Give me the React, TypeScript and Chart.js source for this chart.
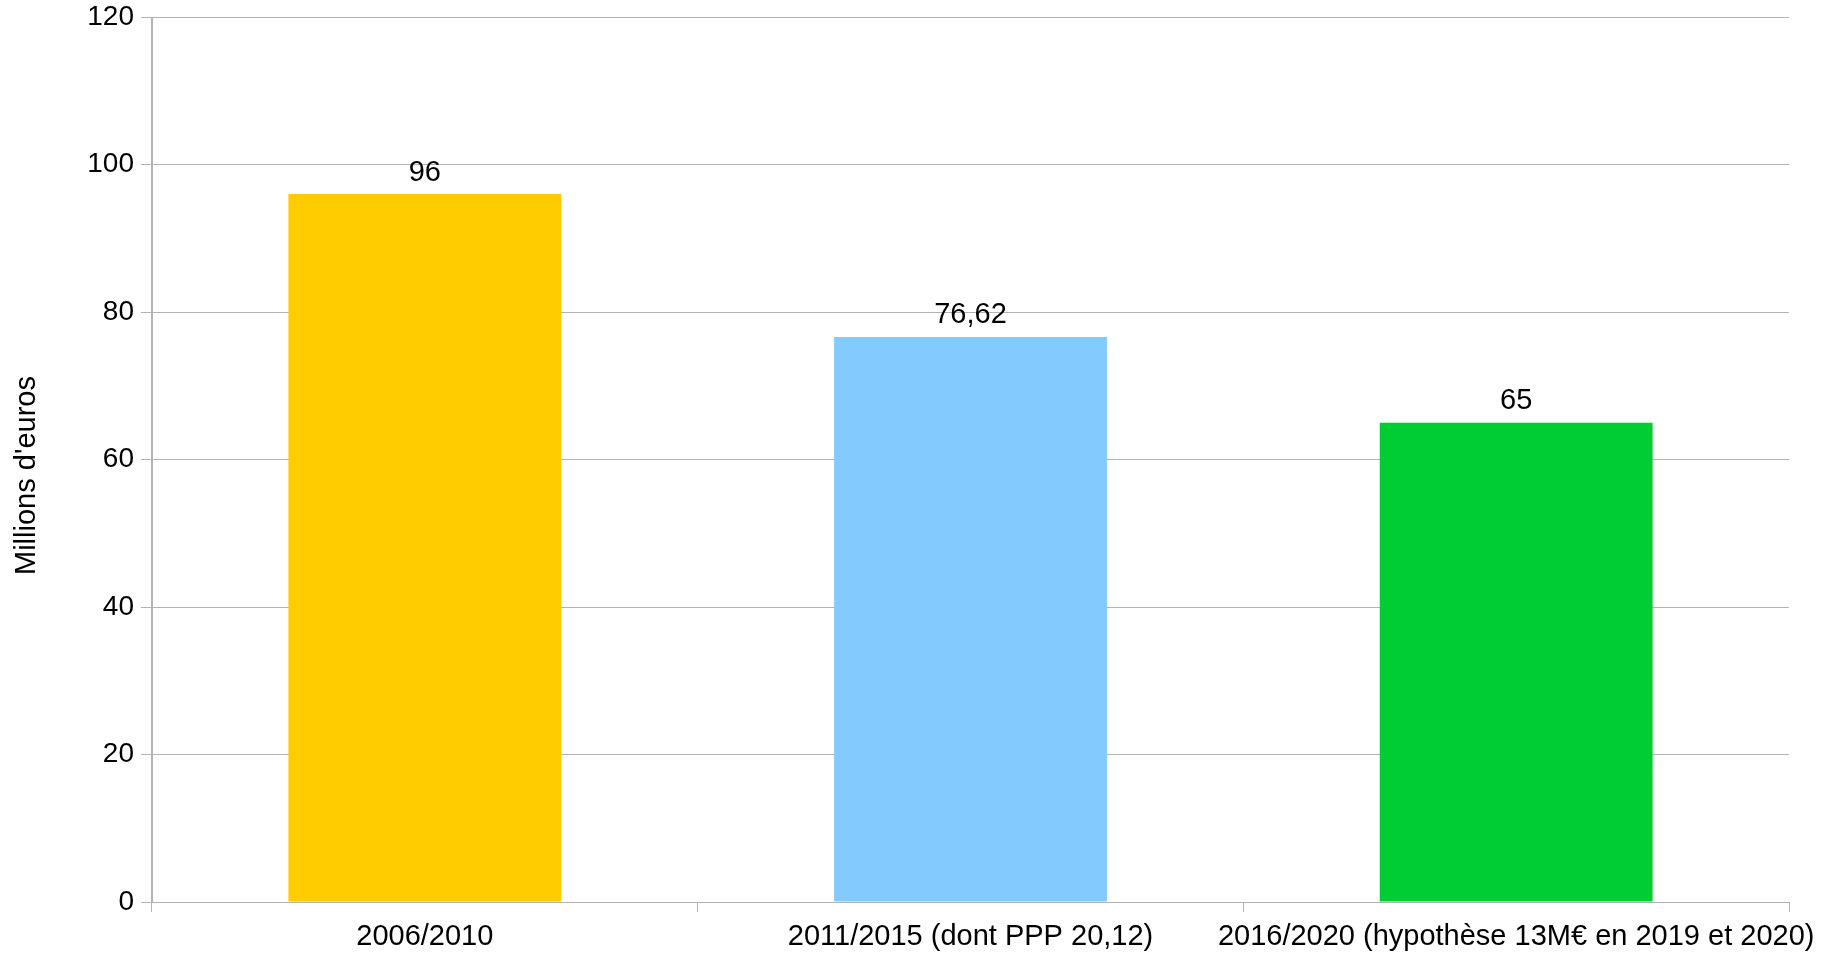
import React, { useEffect, useRef } from "react";
import { Chart, registerables } from "chart.js";

Chart.register(...registerables);

const categories = [
  "2006/2010",
  "2011/2015 (dont PPP 20,12)",
  "2016/2020 (hypothèse 13M€ en 2019 et 2020)",
];
const values = [96, 76.62, 65];
const barColors = ["#ffcc00", "#83caff", "#00cc33"];
const yAxisTitle = "Millions d'euros";
const yMin = 0;
const yMax = 120;
const yStep = 20;

const FONT = "'Liberation Sans', Arial, sans-serif";
const GRID = "#b3b3b3";
const FS = 29;

const valueLabels = {
  id: "valueLabels",
  afterDatasetsDraw(chart: any) {
    const ctx = chart.ctx;
    const meta = chart.getDatasetMeta(0);
    ctx.save();
    ctx.font = `${FS}px ${FONT}`;
    ctx.fillStyle = "#000";
    ctx.textAlign = "center";
    ctx.textBaseline = "bottom";
    meta.data.forEach((el: any, i: number) => {
      const txt = String(values[i]).replace(".", ",");
      ctx.fillText(txt, el.x, el.y - 7);
    });
    ctx.restore();
  },
};

const axisTitle = {
  id: "axisTitle",
  afterDraw(chart: any) {
    const ctx = chart.ctx;
    const a = chart.chartArea;
    ctx.save();
    ctx.font = `${FS}px ${FONT}`;
    ctx.fillStyle = "#000";
    ctx.textAlign = "center";
    ctx.textBaseline = "middle";
    ctx.translate(27, (a.top + a.bottom) / 2 + 16);
    ctx.rotate(-Math.PI / 2);
    ctx.fillText(yAxisTitle, 0, 0);
    ctx.restore();
  },
};

export default function App() {
  const ref = useRef<HTMLCanvasElement>(null);
  useEffect(() => {
    document.body.style.margin = "0";
    const chart = new Chart(ref.current!, {
      type: "bar",
      data: {
        labels: categories,
        datasets: [
          {
            data: values,
            backgroundColor: barColors,
            barPercentage: 0.5,
            categoryPercentage: 1,
          },
        ],
      },
      options: {
        animation: false,
        responsive: false,
        maintainAspectRatio: false,
        layout: { padding: { top: 17, right: 43, left: 0, bottom: 0 } },
        plugins: { legend: { display: false }, tooltip: { enabled: false } },
        scales: {
          x: {
            offset: true,
            afterFit: (s: any) => {
              s.height = 51;
            },
            grid: {
              offset: true,
              color: (c: any) =>
                c.index === 0 || c.index === categories.length ? GRID : "rgba(0,0,0,0)",
              tickColor: GRID,
              tickLength: 10,
              lineWidth: 1,
            },
            border: { display: true, color: GRID },
            ticks: {
              color: "#000",
              font: { family: FONT, size: FS },
              padding: 8,
              maxRotation: 0,
              minRotation: 0,
              autoSkip: false,
            },
          },
          y: {
            min: yMin,
            max: yMax,
            afterFit: (s: any) => {
              s.width = 152;
              s.paddingTop = 0;
              s.paddingBottom = 0;
            },
            grid: { color: GRID, tickColor: GRID, tickLength: 11 },
            border: { display: true, color: GRID },
            ticks: {
              stepSize: yStep,
              color: "#000",
              font: { family: FONT, size: 28 },
              padding: 7,
            },
          },
        },
      },
      plugins: [valueLabels, axisTitle],
    });
    return () => chart.destroy();
  }, []);
  return (
    <div style={{ width: 1832, height: 953 }}>
      <canvas ref={ref} width={1832} height={953} style={{ display: "block" }} />
    </div>
  );
}
